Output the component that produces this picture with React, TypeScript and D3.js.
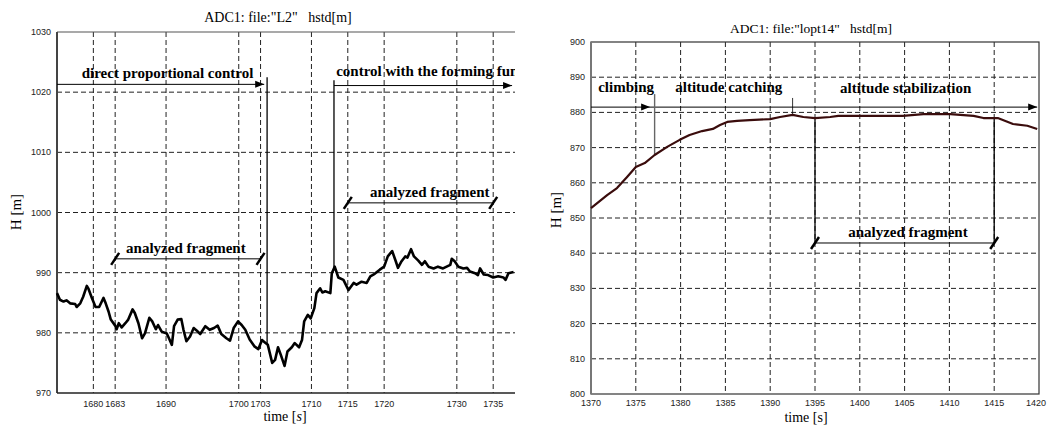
import React from "react";
import * as d3 from "d3";

// ---- left panel: ADC1 file "L2"
const l2Time = [
  1675, 1675.4, 1675.9, 1676.3, 1676.8, 1677.5, 1677.7, 1678.2, 1678.6, 1679.1, 1679.3, 1679.8,
  1680.3, 1680.8, 1681.4, 1681.7, 1682.1, 1682.4, 1683, 1683.2, 1683.5, 1683.9, 1684.4, 1684.8,
  1685.4, 1685.7, 1686.2, 1686.7, 1687.1, 1687.7, 1688.1, 1688.6, 1688.9, 1689.4, 1690.1, 1690.4,
  1690.8, 1691.1, 1691.6, 1692.1, 1692.4, 1692.8, 1693.3, 1693.8, 1694.2, 1694.7, 1695.4, 1696,
  1696.6, 1697.1, 1697.6, 1698.3, 1698.8, 1699.3, 1699.9, 1700.4, 1700.9, 1701.5, 1702.2, 1702.7,
  1703.2, 1703.6, 1704, 1704.3, 1704.6, 1705, 1705.4, 1705.8, 1706.3, 1706.7, 1707.3, 1707.7,
  1708.3, 1708.7, 1709, 1709.5, 1709.9, 1710.4, 1710.7, 1711.2, 1711.5, 1711.9, 1712.6, 1712.8,
  1713.2, 1713.7, 1714.4, 1715.1, 1715.8, 1716.2, 1716.9, 1717.6, 1718.1, 1718.7, 1719.4, 1720,
  1720.5, 1721.1, 1721.6, 1721.9, 1722.4, 1722.9, 1723.2, 1723.7, 1724.1, 1724.7, 1725.2, 1725.6,
  1726.1, 1726.8, 1727.4, 1728.1, 1729.1, 1729.3, 1729.7, 1730.2, 1730.9, 1731.4, 1731.8, 1732.5,
  1732.9, 1733.2, 1733.7, 1734.3, 1735, 1735.7, 1736.4, 1736.7, 1737.1, 1737.8,
];
const l2H = [
  986.6, 985.5, 985.2, 985.4, 984.9, 984.8, 984.3, 984.9, 986, 987.8, 987.4, 985.8,
  984.3, 984.3, 985.8, 984.9, 983.5, 982.2, 981.2, 980.6, 981.6, 980.9, 981.6, 982.2,
  983.9, 983.3, 981.6, 979.1, 979.9, 982.5, 981.9, 980.6, 981.3, 980.2, 979.9, 979.1,
  978, 981.1, 982.2, 982.3, 980.5, 978.6, 979.4, 980.8, 980.4, 979.8, 981.1, 980.5,
  980.8, 981.2, 979.8, 979.1, 978.7, 980.8, 981.9, 981.3, 980.5, 978.9, 977.7, 977.3,
  978.8, 978.4, 978, 976.5, 975, 975.5, 977.6, 976.3, 974.5, 976.9, 977.6, 978.3,
  977.6, 978.8, 981.9, 983, 982.4, 984.1, 986.6, 987.4, 986.7, 986.9, 986.6, 989.9,
  991, 989.2, 988.8, 987.1, 988.3, 988, 988.5, 988.3, 989.4, 989.8, 990.5, 991,
  992.7, 993.6, 991.9, 990.8, 991.9, 992.7, 992.5, 993.9, 992.7, 992, 991.3, 991.9,
  991, 990.7, 991, 990.7, 991.3, 992.3, 991.9, 991, 990.7, 990.8, 990.2, 989.9,
  989.6, 990.7, 989.7, 989.6, 989.2, 989.4, 989.2, 988.8, 989.9, 990.1,
];
const l2TicksX = [1680, 1683, 1690, 1700, 1703, 1710, 1715, 1720, 1730, 1735];
const l2TicksY = [970, 980, 990, 1000, 1010, 1020, 1030];
const l2Switch = [1703.9, 1713.1];
const l2Fragments = [
  [1683, 1703],
  [1715, 1735],
];

// ---- right panel: ADC1 file "lopt14"
const optTime = [
  1370, 1371.8, 1372.9, 1374, 1375, 1376, 1377.1, 1378.5, 1379.9, 1381, 1382.4, 1383.6, 1384.4,
  1385.2, 1386.3, 1387.7, 1390, 1391.1, 1392.5, 1393.7, 1395, 1396.7, 1397.6, 1400, 1404.8,
  1407.1, 1410.1, 1412.7, 1413.8, 1415.4, 1417.1, 1418.7, 1419.8,
];
const optH = [
  852.8, 856.5, 858.5, 861.6, 864.5, 865.6, 867.9, 870.2, 872.2, 873.6, 874.7, 875.3, 876.4,
  877.3, 877.6, 877.8, 878.1, 878.7, 879.3, 878.7, 878.4, 878.7, 879, 879, 879,
  879.5, 879.5, 879, 878.4, 878.4, 876.7, 876.2, 875.3,
];
const optTicksX = [1370, 1375, 1380, 1385, 1390, 1395, 1400, 1405, 1410, 1415, 1420];
const optTicksY = [800, 810, 820, 830, 840, 850, 860, 870, 880, 890, 900];
const optFragment = [1395, 1415];

const serif = "'Liberation Serif', 'Times New Roman', serif";
const sans = "'Liberation Sans', Arial, sans-serif";

// linear interpolation of the recorded curve, used to end marker lines on it
function valueAt(ts: number[], vs: number[], t: number) {
  const i = Math.max(1, Math.min(ts.length - 1, d3.bisectLeft(ts, t)));
  const k = (t - ts[i - 1]) / (ts[i] - ts[i - 1]);
  return vs[i - 1] + k * (vs[i] - vs[i - 1]);
}

const arrowHead = (x: number, y: number) => (
  <polygon points={`${x},${y} ${x - 9},${y - 3.5} ${x - 9},${y + 3.5}`} fill="#000" />
);

const slash = (x: number, y: number) => (
  <line x1={x - 4} y1={y + 6} x2={x + 4} y2={y - 6} stroke="#000" strokeWidth={2.5} />
);

const LeftChart: React.FC = () => {
  const x = d3.scaleLinear().domain([1675, 1738]).range([57, 515]);
  const y = d3.scaleLinear().domain([970, 1030]).range([393, 32]);
  const line = d3
    .line<number>()
    .x((_, i) => x(l2Time[i]))
    .y((d) => y(d));
  const gridY = l2TicksY.slice(1, -1);
  const arrowV = 1021.3;
  const fragV = [992.3, 1001.6];
  const fragText = [1684.5, 1718.05];

  return (
    <g>
      <defs>
        <clipPath id="clipL">
          <rect x={57} y={32} width={458} height={361} />
        </clipPath>
      </defs>
      <text x={278} y={22} textAnchor="middle" fontFamily={serif} fontSize={14}>
        ADC1: file:"L2"{"\u00a0\u00a0\u00a0"}hstd[m]
      </text>

      {/* grid */}
      {gridY.map((v) => (
        <line key={"gy" + v} x1={57} x2={515} y1={y(v)} y2={y(v)} stroke="#222" strokeDasharray="5,3" />
      ))}
      {l2TicksX.map((t) => (
        <line key={"gx" + t} x1={x(t)} x2={x(t)} y1={32} y2={393} stroke="#222" strokeDasharray="5,3" />
      ))}

      {/* frame */}
      <line x1={57} x2={515} y1={32} y2={32} stroke="#555" strokeWidth={1.2} />
      <line x1={57} x2={57} y1={32} y2={393} stroke="#444" strokeWidth={2} />
      <line x1={57} x2={515} y1={393} y2={393} stroke="#222" strokeWidth={1.5} />

      {/* ticks */}
      {l2TicksY.map((v) => (
        <text key={"ty" + v} x={51} y={y(v) + 3} textAnchor="end" fontFamily={sans} fontSize={9} fill="#222">
          {v}
        </text>
      ))}
      {l2TicksX.map((t) => (
        <text key={"tx" + t} x={x(t)} y={407} textAnchor="middle" fontFamily={sans} fontSize={9} fill="#222">
          {t}
        </text>
      ))}

      <text transform="translate(21,212) rotate(-90)" textAnchor="middle" fontFamily={serif} fontSize={15}>
        H [m]
      </text>
      <text x={285} y={421} textAnchor="middle" fontFamily={serif} fontSize={14}>
        time [<tspan fontStyle="italic">s</tspan>]
      </text>

      {/* data */}
      <path d={line(l2H) ?? ""} fill="none" stroke="#000" strokeWidth={2.6} strokeLinejoin="round" />

      {/* control mode annotations */}
      <g clipPath="url(#clipL)">
        <line x1={x(1675)} x2={x(1703.5)} y1={y(arrowV)} y2={y(arrowV)} stroke="#000" />
        {arrowHead(x(1703.5), y(arrowV))}
        <line x1={x(l2Switch[0])} x2={x(l2Switch[0])} y1={y(1022.5)} y2={y(valueAt(l2Time, l2H, l2Switch[0]))} stroke="#000" strokeWidth={1.3} />
        <text x={x(1678.4)} y={y(1022.4)} fontFamily={serif} fontWeight="bold" fontSize={15}>
          direct proportional control
        </text>

        <line x1={x(l2Switch[1])} x2={x(1737.6)} y1={y(arrowV - 0.2)} y2={y(arrowV - 0.2)} stroke="#000" />
        {arrowHead(x(1737.6), y(arrowV - 0.2))}
        <line x1={x(l2Switch[1])} x2={x(l2Switch[1])} y1={y(1022)} y2={y(valueAt(l2Time, l2H, l2Switch[1]))} stroke="#000" strokeWidth={1.3} />
        <text x={x(1713.4)} y={y(1022.7)} fontFamily={serif} fontWeight="bold" fontSize={15}>
          control with the forming function
        </text>

        {l2Fragments.map(([a, b], i) => (
          <g key={"fr" + i}>
            <line x1={x(a)} x2={x(b)} y1={y(fragV[i])} y2={y(fragV[i])} stroke="#000" />
            {slash(x(a), y(fragV[i]))}
            {slash(x(b), y(fragV[i]))}
            <text x={x(fragText[i])} y={y(fragV[i]) - 6} fontFamily={serif} fontWeight="bold" fontSize={15}>
              analyzed fragment
            </text>
          </g>
        ))}
      </g>
    </g>
  );
};

const RightChart: React.FC = () => {
  const x = d3.scaleLinear().domain([1370, 1420]).range([591, 1039]);
  const y = d3.scaleLinear().domain([800, 900]).range([394, 42]);
  const line = d3
    .line<number>()
    .x((_, i) => x(optTime[i]))
    .y((d) => y(d));
  const gridX = optTicksX.slice(1, -1);
  const gridY = optTicksY.slice(1, -1);
  const arrowV = 881.5;
  const fragV = 842.9;

  return (
    <g>
      <text x={811} y={33} textAnchor="middle" fontFamily={serif} fontSize={13.5}>
        ADC1: file:"lopt14"{"\u00a0\u00a0\u00a0"}hstd[m]
      </text>

      {gridY.map((v) => (
        <line key={"gy" + v} x1={591} x2={1039} y1={y(v)} y2={y(v)} stroke="#222" strokeDasharray="5,3" />
      ))}
      {gridX.map((t) => (
        <line key={"gx" + t} x1={x(t)} x2={x(t)} y1={42} y2={394} stroke="#222" strokeDasharray="5,3" />
      ))}

      <rect x={591} y={42} width={448} height={352} fill="none" stroke="#333" strokeWidth={1.2} />
      <line x1={591} x2={591} y1={42} y2={394} stroke="#777" strokeWidth={2} />

      {optTicksY.map((v) => (
        <text key={"ty" + v} x={585} y={y(v) + 3} textAnchor="end" fontFamily={sans} fontSize={9} fill="#222">
          {v}
        </text>
      ))}
      {optTicksX.map((t, i) => (
        <text
          key={"tx" + t}
          x={i === optTicksX.length - 1 ? 1046 : x(t)}
          y={406}
          textAnchor={i === optTicksX.length - 1 ? "end" : "middle"}
          fontFamily={sans}
          fontSize={9}
          fill="#222"
        >
          {t}
        </text>
      ))}

      <text transform="translate(561,210) rotate(-90)" textAnchor="middle" fontFamily={serif} fontSize={15}>
        H [m]
      </text>
      <text x={806} y={422} textAnchor="middle" fontFamily={serif} fontSize={14}>
        time [s]
      </text>

      {/* flight phases */}
      <line x1={591} x2={x(1419.8)} y1={y(arrowV)} y2={y(arrowV)} stroke="#000" />
      {arrowHead(x(1376.6), y(arrowV))}
      {arrowHead(x(1419.8), y(arrowV))}
      <line x1={x(1377.1)} x2={x(1377.1)} y1={y(885.2)} y2={y(valueAt(optTime, optH, 1377.1))} stroke="#666" strokeWidth={1.4} />
      <line x1={x(1392.5)} x2={x(1392.5)} y1={y(884.1)} y2={y(valueAt(optTime, optH, 1392.5))} stroke="#000" strokeWidth={0.8} />
      <text x={x(1370.8)} y={y(885.8)} fontFamily={serif} fontWeight="bold" fontSize={15}>
        climbing
      </text>
      <text x={x(1379.4)} y={y(885.8)} fontFamily={serif} fontWeight="bold" fontSize={15}>
        altitude catching
      </text>
      <text x={x(1397.8)} y={y(885.5)} fontFamily={serif} fontWeight="bold" fontSize={15}>
        altitude stabilization
      </text>

      {optFragment.map((t) => (
        <line key={"fv" + t} x1={x(t)} x2={x(t)} y1={y(valueAt(optTime, optH, t))} y2={y(fragV)} stroke="#000" strokeWidth={1.3} />
      ))}
      <line x1={x(optFragment[0])} x2={x(optFragment[1])} y1={y(fragV)} y2={y(fragV)} stroke="#000" />
      {slash(x(optFragment[0]), y(fragV))}
      {slash(x(optFragment[1]), y(fragV))}
      <text x={x(1398.7)} y={y(844.6)} fontFamily={serif} fontWeight="bold" fontSize={15}>
        analyzed fragment
      </text>

      <path d={line(optH) ?? ""} fill="none" stroke="#3a0c0c" strokeWidth={2.2} strokeLinejoin="round" />
    </g>
  );
};

export default function App() {
  return (
    <svg
      width={1047}
      height={427}
      style={{ position: "absolute", left: 0, top: 0, background: "#fff" }}
    >
      <LeftChart />
      <RightChart />
    </svg>
  );
}
